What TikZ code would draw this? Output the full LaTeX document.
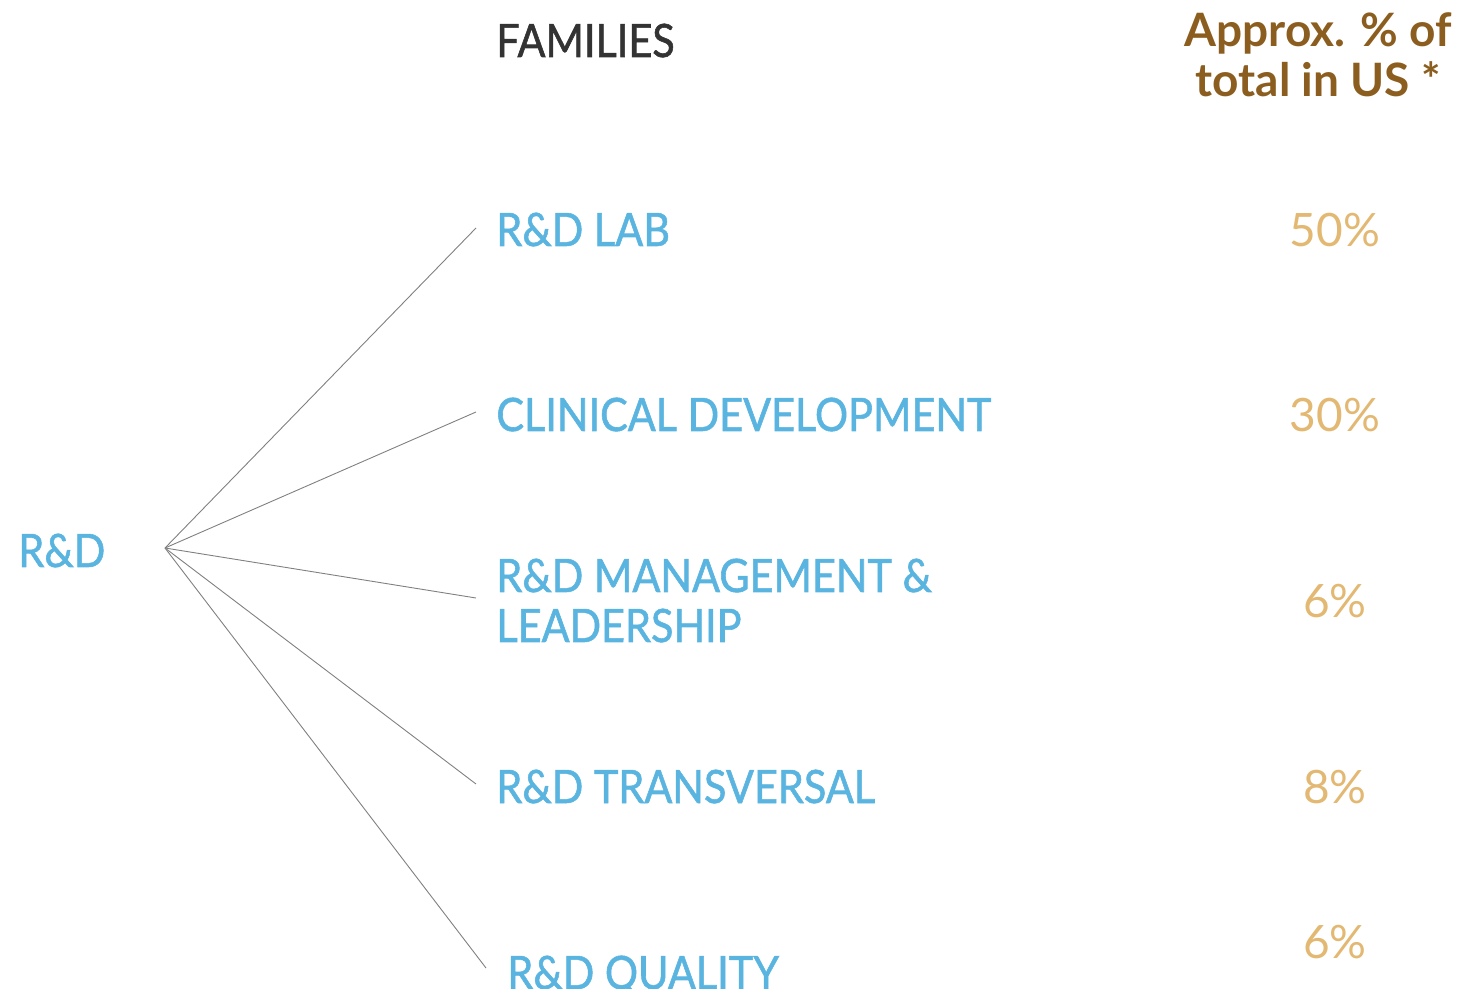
\documentclass[tikz,border=0pt]{standalone}
\usepackage{fontspec}
\setmainfont{Lato}
\newfontfamily\famfont{Lato}[FakeStretch=0.9,FakeBold=1.2]
\newfontfamily\headfont{Lato Bold}
\definecolor{famblue}{HTML}{5AB4E0}
\definecolor{headgold}{HTML}{8B5E1F}
\definecolor{pctgold}{HTML}{E2B872}
\definecolor{headgray}{HTML}{333333}
\begin{document}
\begin{tikzpicture}[x=0.5pt,y=-0.5pt,
  famtext/.style={inner sep=0pt,anchor=base west,text=famblue,font=\famfont\fontsize{23}{25}\selectfont},
  pcttext/.style={inner sep=0pt,anchor=base,text=pctgold,font=\fontsize{23}{25}\selectfont},
  spoke/.style={draw=gray,line width=0.45pt}]

\useasboundingbox (0,0) rectangle (1458,989);
\clip (0,0) rectangle (1458,989);

% headers
\node[inner sep=0pt,anchor=base west,text=headgray,font=\famfont\fontsize{23}{25}\selectfont] (famhead) at (496,57) {FAMILIES};
\node[inner sep=0pt,anchor=base,align=center,text=headgold,font=\headfont\fontsize{23}{25}\selectfont] (pcthead) at (1318,97) {Approx. \% of\\total in US *};

% root
\node[famtext] (rd) at (18,567) {R\&D};
\coordinate (hub) at (165,548);

% families
\node[famtext] (lab) at (496,246) {R\&D LAB};
\node[famtext] (clin) at (496,431) {CLINICAL DEVELOPMENT};
\node[famtext,align=left] (mgmt) at (496,642) {R\&D MANAGEMENT \&\\LEADERSHIP};
\node[famtext] (trans) at (496,803) {R\&D TRANSVERSAL};
\node[famtext] (qual) at (507,989) {R\&D QUALITY};

% shares
\node[pcttext] (plab) at (1335,247) {50\%};
\node[pcttext] (pclin) at (1335,432) {30\%};
\node[pcttext] (pmgmt) at (1335,618) {6\%};
\node[pcttext] (ptrans) at (1335,804) {8\%};
\node[pcttext] (pqual) at (1335,958) {6\%};

% spokes
\coordinate (elab) at (476,228);
\coordinate (eclin) at (476,412);
\coordinate (emgmt) at (476,598);
\coordinate (etrans) at (476,784);
\coordinate (equal) at (486,968);
\foreach \e in {elab,eclin,emgmt,etrans,equal}
  \draw[spoke] (hub) -- (\e);

\end{tikzpicture}
\end{document}
